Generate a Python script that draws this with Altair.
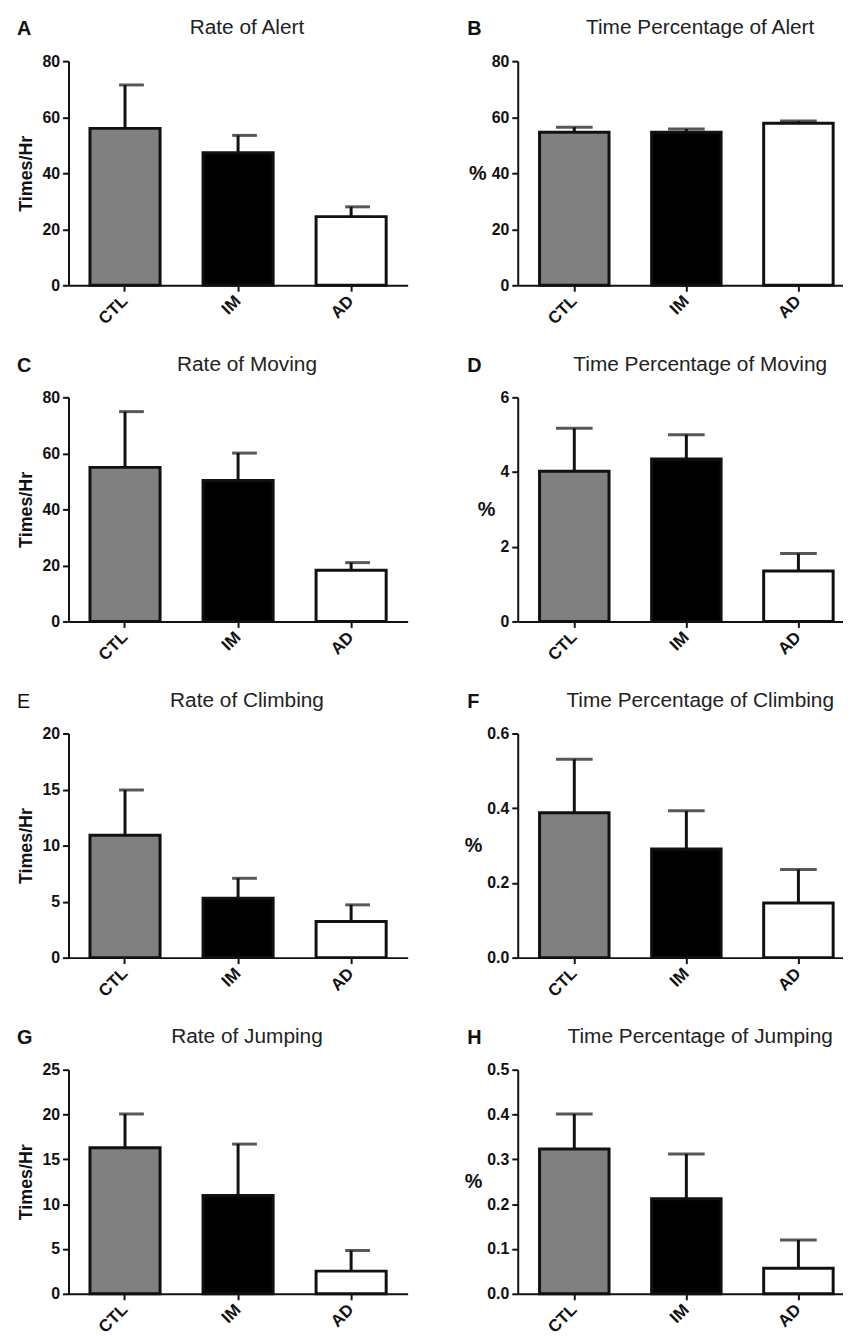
import altair as alt
import pandas as pd

groups = ["CTL", "IM", "AD"]
bar_colors = ["#808080", "#000000", "#ffffff"]

alert_rate = [56.0, 47.3, 24.5]
alert_rate_err = [71.5, 53.5, 28.0]
alert_pct = [54.6, 54.6, 57.8]
alert_pct_err = [56.4, 55.8, 58.6]
moving_rate = [55.0, 50.3, 18.3]
moving_rate_err = [74.9, 60.1, 21.0]
moving_pct = [4.02, 4.35, 1.35]
moving_pct_err = [5.17, 5.0, 1.82]
climb_rate = [10.93, 5.3, 3.23]
climb_rate_err = [14.96, 7.08, 4.71]
climb_pct = [0.388, 0.291, 0.146]
climb_pct_err = [0.531, 0.393, 0.236]
jump_rate = [16.3, 10.96, 2.53]
jump_rate_err = [20.06, 16.7, 4.83]
jump_pct = [0.323, 0.212, 0.057]
jump_pct_err = [0.401, 0.312, 0.12]

letters = ["A", "B", "C", "D", "E", "F", "G", "H"]
titles = ["Rate of Alert", "Time Percentage of Alert",
          "Rate of Moving", "Time Percentage of Moving",
          "Rate of Climbing", "Time Percentage of Climbing",
          "Rate of Jumping", "Time Percentage of Jumping"]
y_titles = ["Times/Hr", "%"] * 4
y_ticks = [[0, 20, 40, 60, 80], [0, 20, 40, 60, 80],
           [0, 20, 40, 60, 80], [0, 2, 4, 6],
           [0, 5, 10, 15, 20], [0.0, 0.2, 0.4, 0.6],
           [0, 5, 10, 15, 20, 25], [0.0, 0.1, 0.2, 0.3, 0.4, 0.5]]
y_formats = ["d", "d", "d", "d", "d", ".1f", "d", ".1f"]
values = [alert_rate, alert_pct, moving_rate, moving_pct,
          climb_rate, climb_pct, jump_rate, jump_pct]
errors = [alert_rate_err, alert_pct_err, moving_rate_err, moving_pct_err,
          climb_rate_err, climb_pct_err, jump_rate_err, jump_pct_err]
letter_bold = [True, True, True, True, False, True, True, True]

FONT = "Liberation Sans"
H = 226


def panel(i):
    left = (i % 2 == 0)
    df = pd.DataFrame({"group": groups, "value": values[i], "err": errors[i]})
    if left:
        W = 342
        xscale = alt.Scale(domain=groups, paddingInner=0.38, paddingOuter=0.19)
        cap_size, cap_off = 25, 6.5
    else:
        W = 328
        xscale = alt.Scale(domain=groups, paddingInner=0.38, paddingOuter=0.1413, align=0.689)
        cap_size, cap_off = 37, 0
    ticks = y_ticks[i]
    if left:
        yaxis = alt.Axis(values=ticks, format=y_formats[i], title=y_titles[i],
                         titlePadding=7, titleFontSize=18)
    else:
        yaxis = alt.Axis(values=ticks, format=y_formats[i], title=y_titles[i],
                         titleAngle=0, titleAlign="right", titleBaseline="middle",
                         titlePadding=5, titleFontSize=20)
    yscale = alt.Scale(domain=[ticks[0], ticks[-1]], nice=False)
    x = alt.X("group:N", scale=xscale, sort=groups,
              axis=alt.Axis(title=None, labelAngle=315, labelAlign="right",
                            labelBaseline="middle", labelPadding=7, labelFontSize=17))
    base = alt.Chart(df)
    bars = base.mark_bar(stroke="#111111", strokeWidth=3).encode(
        x=x,
        y=alt.Y("value:Q", scale=yscale, axis=yaxis),
        fill=alt.Fill("group:N", scale=alt.Scale(domain=groups, range=bar_colors), legend=None),
    )
    rule = base.mark_rule(strokeWidth=3, color="#111111").encode(
        x=x, y=alt.Y("value:Q", scale=yscale), y2="err:Q")
    cap = base.mark_tick(color="#111111", thickness=3, size=cap_size, xOffset=cap_off).encode(
        x=x, y=alt.Y("err:Q", scale=yscale))
    one = alt.Chart(pd.DataFrame({"k": [0]}))
    letter = one.mark_text(text=letters[i], align="left", baseline="middle", fontSize=20,
                           fontWeight="bold" if letter_bold[i] else "normal",
                           color="#111111").encode(
        x=alt.value(-52 if left else -51), y=alt.value(-32))
    ttl = one.mark_text(text=titles[i], align="center", baseline="middle", fontSize=21,
                        color="#222222").encode(
        x=alt.value(180 if left else 184), y=alt.value(-33))
    return alt.layer(bars, rule, cap, letter, ttl).properties(width=W, height=H)


chart = alt.concat(*[panel(i) for i in range(8)], columns=2,
                   spacing={"row": 113, "column": 111}, bounds="flush").properties(
    padding={"left": 9, "top": 4, "right": 0, "bottom": 0}
).configure_view(strokeWidth=0).configure_axis(
    labelFont=FONT, titleFont=FONT, labelFontSize=16, labelFontWeight="bold",
    titleFontWeight="bold", labelColor="#111111", titleColor="#111111",
    domainColor="#111111", tickColor="#111111", domainWidth=2, tickWidth=2,
    tickSize=6, labelPadding=3, grid=False
).configure_text(font=FONT)

chart.save("out.html", embed_options={"renderer": "svg", "actions": False})
